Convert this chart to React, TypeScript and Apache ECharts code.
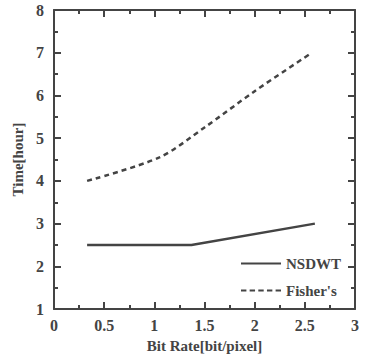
import React, { useEffect, useRef } from "react";
import * as echarts from "echarts";

const nsdwtX = [0.33, 1.37, 2.6];
const nsdwtY = [2.5, 2.5, 3.0];
const fisherX = [0.33, 1.05, 1.5, 2.0, 2.57];
const fisherY = [4.0, 4.55, 5.25, 6.1, 7.0];
const xName = "Bit Rate[bit/pixel]";
const yName = "Time[hour]";

export default function App() {
  const ref = useRef<HTMLDivElement>(null);
  useEffect(() => {
    const chart = echarts.init(ref.current!, null, { renderer: "svg" });
    const font = "'Liberation Serif', 'Times New Roman', serif";
    const axisColor = "#444";
    const common = {
      axisLine: { show: true, onZero: false, lineStyle: { color: axisColor, width: 2 } },
      splitLine: { show: false },
      axisTick: { show: true, inside: true, length: 7, lineStyle: { color: axisColor, width: 2 } },
      minorTick: { show: true, splitNumber: 2, length: 4, lineStyle: { color: axisColor, width: 2 } },
    };
    const labelStyle = { fontFamily: font, fontWeight: "bold", fontSize: 16, color: "#444" };
    chart.setOption({
      animation: false,
      backgroundColor: "#fff",
      grid: { left: 54, right: 12, top: 10, bottom: 46 },
      legend: {
        orient: "vertical",
        left: 236,
        top: 251,
        itemWidth: 40,
        itemHeight: 10,
        itemGap: 12,
        textStyle: { fontFamily: font, fontWeight: "bold", fontSize: 15, color: "#444" },
        data: [
          { name: "NSDWT", icon: "path://M0,4 L40,4 L40,6 L0,6 Z" },
          { name: "Fisher's", icon: "path://M0,4 L5,4 L5,6 L0,6 Z M8,4 L13,4 L13,6 L8,6 Z M16,4 L21,4 L21,6 L16,6 Z M24,4 L29,4 L29,6 L24,6 Z M32,4 L37,4 L37,6 L32,6 Z" },
        ],
      },
      xAxis: [
        {
          ...common,
          type: "value",
          min: 0,
          max: 3,
          interval: 0.5,
          name: xName,
          nameLocation: "middle",
          nameGap: 23,
          nameTextStyle: { fontFamily: font, fontWeight: "bold", fontSize: 15, color: "#444" },
          axisLabel: { ...labelStyle, margin: 8, formatter: (v: number) => String(v) },
        },
        {
          ...common,
          type: "value",
          position: "top",
          min: 0,
          max: 3,
          interval: 0.5,
          axisLabel: { show: false },
        },
      ],
      yAxis: [
        {
          ...common,
          type: "value",
          min: 1,
          max: 8,
          interval: 1,
          name: yName,
          nameLocation: "middle",
          nameGap: 25,
          nameTextStyle: { fontFamily: font, fontWeight: "bold", fontSize: 15, color: "#444" },
          axisLabel: { ...labelStyle, margin: 10 },
        },
        {
          ...common,
          type: "value",
          position: "right",
          min: 1,
          max: 8,
          interval: 1,
          axisLabel: { show: false },
        },
      ],
      series: [
        {
          name: "NSDWT",
          type: "line",
          symbol: "none",
          data: nsdwtX.map((x, i) => [x, nsdwtY[i]]),
          lineStyle: { color: "#444", width: 2.5 },
          itemStyle: { color: "#444" },
        },
        {
          name: "Fisher's",
          type: "line",
          symbol: "none",
          smooth: 0.3,
          data: fisherX.map((x, i) => [x, fisherY[i]]),
          lineStyle: { color: "#444", width: 2.5, type: [5, 4] },
          itemStyle: { color: "#444" },
        },
      ],
    });
    return () => chart.dispose();
  }, []);
  return <div ref={ref} style={{ width: 367, height: 358, position: "absolute", left: 0, top: 0 }} />;
}
